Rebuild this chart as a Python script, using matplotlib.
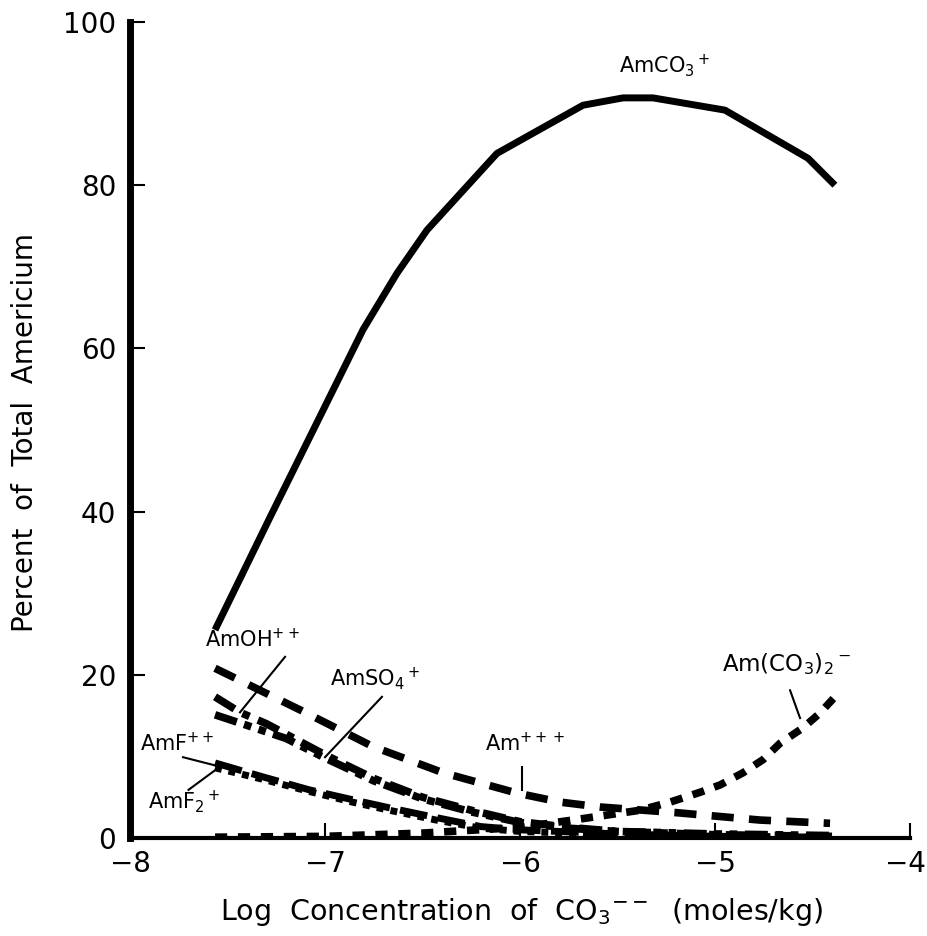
import matplotlib
matplotlib.use("Agg")
import matplotlib.pyplot as plt
import matplotlib.transforms as mtransforms

plt.rcParams['font.family'] = ['DejaVu Sans']
plt.rcParams['mathtext.fontset'] = 'custom'
plt.rcParams['mathtext.rm'] = 'DejaVu Sans'
plt.rcParams['mathtext.it'] = 'DejaVu Sans'
plt.rcParams['mathtext.bf'] = 'DejaVu Sans:bold'

# ---- data ----
x_amco3 = [-7.564, -7.282, -6.805, -6.631, -6.477, -6.118, -5.677, -5.472, -5.318, -4.949, -4.523, -4.385]
y_amco3 = [25.5, 39.3, 62.3, 69.2, 74.5, 83.9, 89.8, 90.7, 90.7, 89.2, 83.3, 80.0]

x_am3 = [-7.564, -7.128, -6.754, -6.395, -6.015, -5.795, -5.59, -5.195, -4.77, -4.41]
y_am3 = [20.8, 15.7, 11.2, 8.0, 5.5, 4.4, 3.8, 3.1, 2.2, 1.8]

x_amco32 = [-7.564, -7.0, -6.5, -6.0, -5.7, -5.385, -5.23, -5.077, -4.974, -4.856, -4.754, -4.667, -4.549, -4.462, -4.385]
y_amco32 = [0.1, 0.2, 0.6, 1.3, 2.3, 3.4, 4.4, 5.6, 6.5, 8.0, 9.6, 11.6, 13.5, 15.3, 17.3]

x_amoh = [-7.564, -7.436, -7.3, -7.0, -6.75, -6.5, -6.25, -6.0, -5.75, -5.5, -5.0, -4.4]
y_amoh = [17.3, 15.4, 14.0, 10.2, 7.3, 5.0, 3.4, 2.0, 1.3, 0.8, 0.4, 0.2]

x_amso4 = [-7.564, -7.4, -7.2, -7.0, -6.75, -6.5, -6.25, -6.0, -5.75, -5.5, -5.0, -4.4]
y_amso4 = [15.1, 13.8, 12.2, 9.8, 7.0, 4.8, 3.2, 1.9, 1.2, 0.8, 0.5, 0.3]

x_amf = [-7.564, -7.32, -7.08, -6.86, -6.67, -6.43, -6.2, -6.0, -5.5, -5.0, -4.4]
y_amf = [9.2, 7.5, 5.9, 4.7, 3.7, 2.5, 1.4, 1.0, 0.5, 0.2, 0.1]

x_amf2 = [-7.564, -7.32, -7.08, -6.86, -6.67, -6.43, -6.2, -6.0, -5.5, -5.0, -4.4]
y_amf2 = [8.6, 7.2, 5.7, 4.4, 3.4, 2.2, 1.2, 0.8, 0.4, 0.2, 0.1]

xticks = [-8, -7, -6, -5, -4]
xticklabels = ['\u22128', '\u22127', '\u22126', '\u22125', '\u22124']
yticks = [0, 20, 40, 60, 80, 100]

fig = plt.figure(figsize=(9.28, 9.36), dpi=100)
ax = fig.add_axes([130/928, 1-838/936, 780/928, 816/936])

def dline(x, y, dashes, lw=5.5):
    ln, = ax.plot(x, y, color='black', lw=lw, solid_capstyle='butt', dash_capstyle='butt')
    if dashes is not None:
        ln.set_dashes(dashes)
    return ln

dline(x_amco3, y_amco3, None, lw=5)
dline(x_am3, y_am3, (2.9, 2.0))
dline(x_amco32, y_amco32, (1.6, 1.4))
dline(x_amoh, y_amoh, (3.0, 1.2, 1.0, 1.2))
dline(x_amso4, y_amso4, (3.0, 1.0, 1.0, 1.0, 1.0, 1.0))
dline(x_amf, y_amf, (4.0, 1.5), lw=5)
dline(x_amf2, y_amf2, (1.0, 1.0), lw=5)

ax.set_xlim(-8, -4)
ax.set_ylim(0, 100)
ax.set_xticks(xticks)
ax.set_xticklabels(xticklabels)
ax.set_yticks(yticks)
for s in ['top', 'right']:
    ax.spines[s].set_visible(False)
ax.spines['left'].set_linewidth(5)
ax.spines['bottom'].set_linewidth(3)
ax.tick_params(axis='y', direction='in', length=11, width=1.5, pad=10, labelsize=20)
ax.tick_params(axis='x', direction='in', length=11, width=1.5, pad=9, labelsize=20)
# keep the last x tick label inside the figure
last = ax.get_xticklabels()[-1]
last.set_transform(last.get_transform() + mtransforms.ScaledTranslation(-5/100, 0, fig.dpi_scale_trans))

fig.text(25/928, 1-432/936, 'Percent  of  Total  Americium', rotation=90,
         ha='center', va='center', fontsize=20)
fig.text(521/928, 1-912/936, 'Log  Concentration  of  CO$_3$$^{--}$  (moles/kg)',
         ha='center', va='center', fontsize=20.5)

fs = 15
ax.text(-5.256, 94.7, 'AmCO$_3$$^+$', fontsize=fs, ha='center', va='center')
ax.text(-7.615, 24.3, 'AmOH$^{++}$', fontsize=fs, ha='left', va='center')
ax.plot([-7.205, -7.436], [22.2, 15.4], color='black', lw=1.5)
ax.text(-6.974, 19.6, 'AmSO$_4$$^+$', fontsize=fs, ha='left', va='center')
ax.plot([-6.708, -7.0], [17.3, 9.9], color='black', lw=1.5)
ax.text(-7.95, 11.6, 'AmF$^{++}$', fontsize=fs, ha='left', va='center')
ax.plot([-7.728, -7.564], [9.9, 8.9], color='black', lw=1.5)
ax.text(-7.908, 4.5, 'AmF$_2$$^+$', fontsize=fs, ha='left', va='center')
ax.plot([-7.70, -7.564], [5.9, 8.3], color='black', lw=1.5)
ax.text(-6.18, 11.6, 'Am$^{+++}$', fontsize=fs, ha='left', va='center')
ax.plot([-5.99, -5.99], [8.7, 5.9], color='black', lw=1.5)
ax.text(-4.964, 21.3, 'Am(CO$_3$)$_2$$^-$', fontsize=16.5, ha='left', va='center')
ax.plot([-4.615, -4.564], [18.1, 14.7], color='black', lw=1.5)

fig.savefig('out.png', dpi=100)
